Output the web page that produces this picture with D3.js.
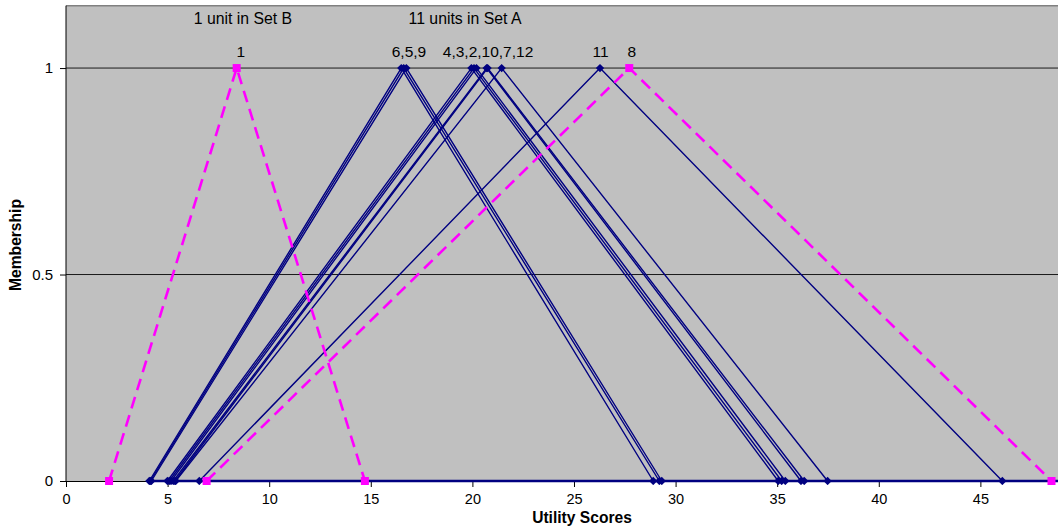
<!DOCTYPE html>
<html><head><meta charset="utf-8">
<script src="https://cdn.jsdelivr.net/npm/d3@7"></script>
<style>
html,body{margin:0;padding:0;background:#fff;}
svg{display:block;font-family:"Liberation Sans",Arial,sans-serif;}
</style></head>
<body>
<svg id="chart" width="1058" height="530"></svg>
<script>
// Set A units (navy, solid, diamond markers)
const unitsA = ["6","5","9","4","3","2","10","7","12","11"];
const lowA  = [4.10, 4.15, 4.20, 4.99, 5.08, 5.17, 5.28, 5.36, 5.40, 6.56];
const peakA = [16.50, 16.62, 16.75, 19.95, 20.08, 20.20, 20.70, 20.75, 21.44, 26.28];
const highA = [28.90, 29.20, 29.32, 35.05, 35.22, 35.40, 36.17, 36.33, 37.48, 46.08];
// Set B / pink units (dashed, square markers)
const unitsB = ["1","8"];
const lowB  = [2.12, 6.92];
const peakB = [8.40, 27.72];
const highB = [14.71, 48.50];
// membership at low, peak, high
const membership = [0, 1, 0];
// axis ticks
const xTicks = [0,5,10,15,20,25,30,35,40,45];
const yTicks = [0,0.5,1];
// annotations
const peakLabels = ["1","6,5,9","4,3,2,10,7,12","11","8"];
const peakLabelX = [8.6, 16.88, 20.77, 26.31, 27.84];
const groupTitles = ["1 unit in Set B","11 units in Set A"];
const groupTitleX = [8.71, 19.64];

const svg = d3.select("#chart");
const L = 66, R = 1058, T = 5.7, B = 481;
const x = d3.scaleLinear().domain([0, 48.82]).range([L, R]);
const y = d3.scaleLinear().domain([0, 1.151]).range([B, T]);

svg.append("defs").append("clipPath").attr("id","clip")
  .append("rect").attr("x",L).attr("y",T-2).attr("width",R-L).attr("height",B-T+6);

// plot background
svg.append("rect").attr("x",L).attr("y",T).attr("width",R-L).attr("height",B-T).attr("fill","#C0C0C0");
// top border
svg.append("line").attr("x1",L).attr("x2",R).attr("y1",T).attr("y2",T).attr("stroke","#808080").attr("stroke-width",1.5);

// gridlines
svg.append("g").selectAll("line").data(yTicks.filter(d=>d>0)).join("line")
  .attr("x1",L).attr("x2",R).attr("y1",d=>y(d)).attr("y2",d=>y(d))
  .attr("stroke","#1a1a1a").attr("stroke-width",1);

// axes
const xAxis = d3.axisBottom(x).tickValues(xTicks).tickSize(6).tickFormat(d3.format("d"));
const gx = svg.append("g").attr("transform",`translate(0,${B})`).call(xAxis);
gx.select(".domain").attr("stroke","#000");
gx.selectAll(".tick line").attr("stroke","#000");
gx.selectAll(".tick text").attr("font-size",14.5).attr("fill","#000").attr("dy","0.95em").attr("font-family","Liberation Sans, Arial, sans-serif");

const yAxis = d3.axisLeft(y).tickValues(yTicks).tickSize(6).tickFormat(d=>d3.format("")(d));
const gy = svg.append("g").attr("transform",`translate(${L},0)`).call(yAxis);
gy.select(".domain").attr("stroke","#000").attr("d",`M-0,${B}V${T}`);
gy.selectAll(".tick line").attr("stroke","#000");
gy.selectAll(".tick text").attr("font-size",15).attr("fill","#000").attr("x",-13).attr("font-family","Liberation Sans, Arial, sans-serif");

const plot = svg.append("g").attr("clip-path","url(#clip)");
const line = d3.line().x(d=>x(d[0])).y(d=>y(d[1]));

// baseline of Set A (navy along y=0)
plot.append("path").datum([[d3.min(lowA),0],[x.domain()[1],0]])
  .attr("d",line).attr("fill","none").attr("stroke","#000080").attr("stroke-width",2.4);

const setA = unitsA.map((u,i)=>({u, pts:[[lowA[i],membership[0]],[peakA[i],membership[1]],[highA[i],membership[2]]]}));
const setB = unitsB.map((u,i)=>({u, pts:[[lowB[i],membership[0]],[peakB[i],membership[1]],[highB[i],membership[2]]]}));

// Set A lines
plot.append("g").selectAll("path").data(setA).join("path")
  .attr("d",d=>line(d.pts)).attr("fill","none").attr("stroke","#000080").attr("stroke-width",1.4);

// Set B lines
plot.append("g").selectAll("path").data(setB).join("path")
  .attr("d",d=>line(d.pts)).attr("fill","none").attr("stroke","#FF00FF").attr("stroke-width",2.6)
  .attr("stroke-dasharray","12,7");

// Set A markers (diamonds)
const diamond = d3.symbol().type(d3.symbolDiamond2).size(44);
plot.append("g").selectAll("path").data(setA.flatMap(d=>d.pts)).join("path")
  .attr("transform",d=>`translate(${x(d[0])},${y(d[1])})`)
  .attr("d",diamond).attr("fill","#000080");

// Set B markers (squares)
plot.append("g").selectAll("rect").data(setB.flatMap(d=>d.pts)).join("rect")
  .attr("x",d=>x(d[0])-4).attr("y",d=>y(d[1])-4).attr("width",8).attr("height",8)
  .attr("fill","#FF00FF");

// peak labels
svg.append("g").selectAll("text").data(peakLabels).join("text")
  .attr("x",(d,i)=>x(peakLabelX[i])).attr("y",y(1)-11)
  .attr("text-anchor","middle").attr("font-size",15.5).attr("fill","#000").text(d=>d);

// group titles
svg.append("g").selectAll("text").data(groupTitles).join("text")
  .attr("x",(d,i)=>x(groupTitleX[i])).attr("y",24)
  .attr("text-anchor","middle").attr("font-size",15.8).attr("fill","#000").text(d=>d);

// axis titles
svg.append("text").attr("x",582).attr("y",523).attr("text-anchor","middle")
  .attr("font-size",15.6).attr("font-weight","bold").text("Utility Scores");
svg.append("text").attr("transform","translate(21,245) rotate(-90)").attr("text-anchor","middle")
  .attr("font-size",15.6).attr("font-weight","bold").text("Membership");
</script>
</body></html>
